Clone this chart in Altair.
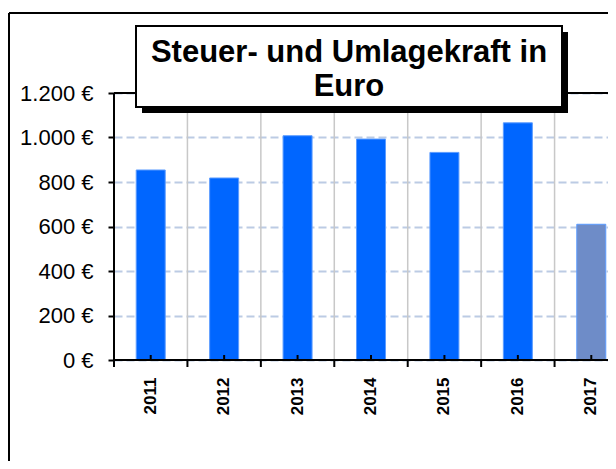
import altair as alt
import pandas as pd

# ---- data ----
years = ["2011", "2012", "2013", "2014", "2015", "2016", "2017"]
values = [854, 818, 1008, 993, 933, 1066, 610]
kinds = ["Ist", "Ist", "Ist", "Ist", "Ist", "Ist", "Plan"]
y_ticks = [0, 200, 400, 600, 800, 1000, 1200]
title_lines = ["Steuer- und Umlagekraft in", "Euro"]

# ---- layout ----
W = 494          # plot area up to the right edge of the drawing
H = 267
BAND_RANGE = 514 # full width of the 7 category bands (last boundary falls outside)
FONT = "Liberation Sans"
XEND = W + 10
BOTTOM = 101

df = pd.DataFrame({"year": years, "value": values, "kind": kinds})
one = pd.DataFrame({"k": [0]})

xscale = alt.Scale(domain=years, range=[0, BAND_RANGE], paddingInner=0, paddingOuter=0)
yscale = alt.Scale(domain=[0, 1200], nice=False, zero=True)

# outer chart frame (left and top edges; the others lie outside the window)
frame_left = alt.Chart(one).mark_rule(color="black", strokeWidth=2).encode(
    x=alt.value(-105), y=alt.value(-80), y2=alt.value(H + BOTTOM + 10)
)
frame_top = alt.Chart(one).mark_rule(color="black", strokeWidth=2).encode(
    x=alt.value(-105), x2=alt.value(XEND), y=alt.value(-80)
)

vgrid = alt.Chart(df).mark_rule(color="#c8c8c8", strokeWidth=1.5).encode(
    x=alt.X("year:N", bandPosition=0, scale=xscale, sort=years, title=None),
    y=alt.value(0), y2=alt.value(H),
)

bars = alt.Chart(df).mark_bar(width=29, stroke="#5c9cff", strokeWidth=1).encode(
    x=alt.X("year:N", scale=xscale, sort=years, title=None),
    y=alt.Y(
        "value:Q", scale=yscale,
        axis=alt.Axis(
            values=y_ticks, domain=False, tickColor="black", tickWidth=2, tickSize=6,
            labelExpr="replace(format(datum.value, ','), ',', '.') + ' €'",
            labelFont=FONT, labelFontSize=22, labelColor="black", labelPadding=15,
            grid=True, gridColor="#bccbe4", gridDash=[8, 4], gridWidth=2, title=None,
        ),
    ),
    color=alt.Color("kind:N", scale=alt.Scale(domain=["Ist", "Plan"], range=["#0066ff", "#6e8cc8"]), legend=None),
)

minor_ticks = alt.Chart(df).mark_rule(color="black", strokeWidth=2).encode(
    x=alt.X("year:N", scale=xscale, sort=years, title=None),
    y=alt.value(H - 5), y2=alt.value(H),
)

major_ticks = alt.Chart(df).mark_rule(color="black", strokeWidth=2).encode(
    x=alt.X("year:N", bandPosition=0, scale=xscale, sort=years, title=None),
    y=alt.value(H), y2=alt.value(H + 7),
)

xline = alt.Chart(one).mark_rule(color="black", strokeWidth=2).encode(
    x=alt.value(0), x2=alt.value(XEND), y=alt.value(H)
)
yline = alt.Chart(one).mark_rule(color="black", strokeWidth=2).encode(
    x=alt.value(0), y=alt.value(0), y2=alt.value(H)
)
topline = alt.Chart(one).mark_rule(color="black", strokeWidth=2).encode(
    x=alt.value(0), x2=alt.value(XEND), y=alt.value(0)
)

shadow = alt.Chart(one).mark_rect(color="black").encode(
    x=alt.value(28), x2=alt.value(454), y=alt.value(-61), y2=alt.value(20)
)
box = alt.Chart(one).mark_rect(fill="white", stroke="black", strokeWidth=2).encode(
    x=alt.value(22), x2=alt.value(448), y=alt.value(-67), y2=alt.value(14)
)
title = alt.Chart(one).mark_text(
    text=title_lines, align="center", baseline="alphabetic", font=FONT,
    fontWeight="bold", fontSize=31, lineHeight=34, color="black",
).encode(x=alt.value(235), y=alt.value(-31))

chart = alt.layer(
    frame_left, frame_top, vgrid, bars, minor_ticks, major_ticks,
    xline, yline, topline, shadow, box, title
).properties(
    width=W, height=H,
    padding={"left": 106, "top": 85, "right": 0, "bottom": BOTTOM},
    autosize=alt.AutoSizeParams(type="none"),
).configure_view(
    stroke=None
).configure_axisX(
    domain=False, ticks=False, tickSize=0, labelAngle=-90, labelFont="Arial",
    labelFontSize=17, labelFontWeight="bold", labelColor="black",
    labelPadding=17, grid=False, labelOverlap=False,
)

chart.save("out.html", embed_options={"renderer": "svg", "actions": False})
